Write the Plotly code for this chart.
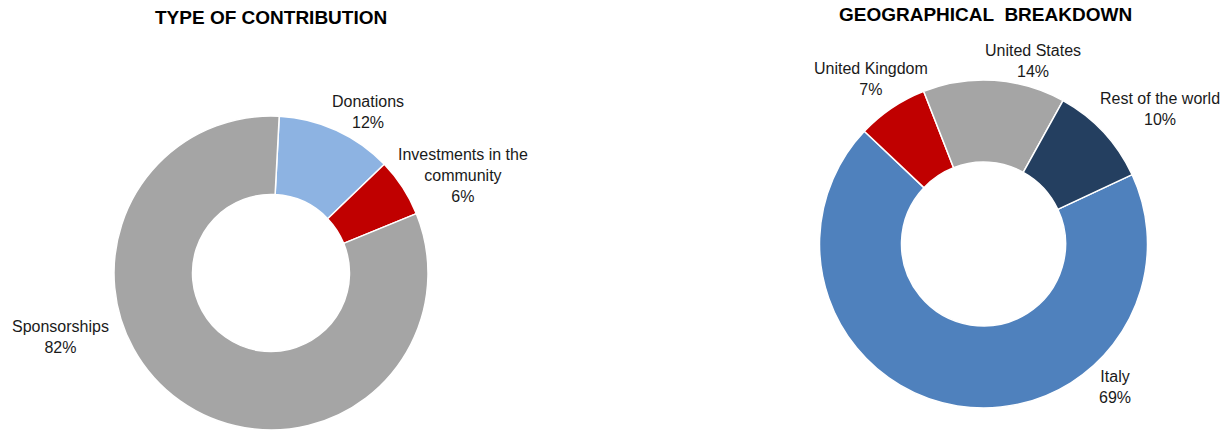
import plotly.graph_objects as go

# Type of contribution (share of total, %)
contrib_labels = ["Donations", "Investments in the community", "Sponsorships"]
contrib_values = [12, 6, 82]
contrib_colors = ["#8DB3E2", "#C00000", "#A5A5A5"]

# Geographical breakdown (share of total, %)
geo_labels = ["Italy", "United Kingdom", "United States", "Rest of the world"]
geo_values = [69, 7, 14, 10]
geo_colors = ["#4F81BD", "#C00000", "#A5A5A5", "#243F60"]

W, H = 1232, 432
FONT = "Liberation Sans, Arial, sans-serif"

# line breaks used in the data labels
wrap = {"Investments in the community": "Investments in the<br>community"}

# label anchor points (pixels from top-left) for each slice
contrib_label_pos = {
    "Donations": (368, 112),
    "Investments in the community": (463, 175),
    "Sponsorships": (60, 337),
}
geo_label_pos = {
    "Italy": (1115, 387),
    "United Kingdom": (871, 79),
    "United States": (1033, 61),
    "Rest of the world": (1160, 109),
}


def px_x(x):
    return x / W


def px_y(y):
    return 1 - y / H


fig = go.Figure()

fig.add_trace(go.Pie(
    labels=contrib_labels,
    values=contrib_values,
    marker=dict(colors=contrib_colors, line=dict(color="white", width=1.5)),
    hole=0.5,
    sort=False,
    direction="clockwise",
    rotation=3,
    textinfo="none",
    domain=dict(x=[px_x(114), px_x(428)], y=[px_y(430), px_y(116)]),
    showlegend=False,
))

fig.add_trace(go.Pie(
    labels=geo_labels,
    values=geo_values,
    marker=dict(colors=geo_colors, line=dict(color="white", width=1.5)),
    hole=0.5,
    sort=False,
    direction="clockwise",
    rotation=65,
    textinfo="none",
    domain=dict(x=[px_x(819), px_x(1148)], y=[px_y(408), px_y(80)]),
    showlegend=False,
))

annotations = []
for name, val in zip(contrib_labels, contrib_values):
    x, y = contrib_label_pos[name]
    annotations.append(dict(
        x=px_x(x), y=px_y(y), xref="paper", yref="paper",
        text=f"{wrap.get(name, name)}<br>{val}%", showarrow=False,
        xanchor="center", yanchor="middle",
        font=dict(family=FONT, size=16, color="#1a1a1a"),
    ))
for name, val in zip(geo_labels, geo_values):
    x, y = geo_label_pos[name]
    annotations.append(dict(
        x=px_x(x), y=px_y(y), xref="paper", yref="paper",
        text=f"{wrap.get(name, name)}<br>{val}%", showarrow=False,
        xanchor="center", yanchor="middle",
        font=dict(family=FONT, size=16, color="#1a1a1a"),
    ))

# chart titles
annotations.append(dict(
    x=px_x(271), y=px_y(18), xref="paper", yref="paper",
    text="<b>TYPE OF CONTRIBUTION</b>", showarrow=False,
    xanchor="center", yanchor="middle",
    font=dict(family=FONT, size=19, color="black"),
))
annotations.append(dict(
    x=px_x(985), y=px_y(15), xref="paper", yref="paper",
    text="<b>GEOGRAPHICAL  BREAKDOWN</b>", showarrow=False,
    xanchor="center", yanchor="middle",
    font=dict(family=FONT, size=19, color="black"),
))

fig.update_layout(
    width=W, height=H,
    margin=dict(l=0, r=0, t=0, b=0),
    paper_bgcolor="white",
    plot_bgcolor="white",
    annotations=annotations,
)

fig.write_html("out.html")
